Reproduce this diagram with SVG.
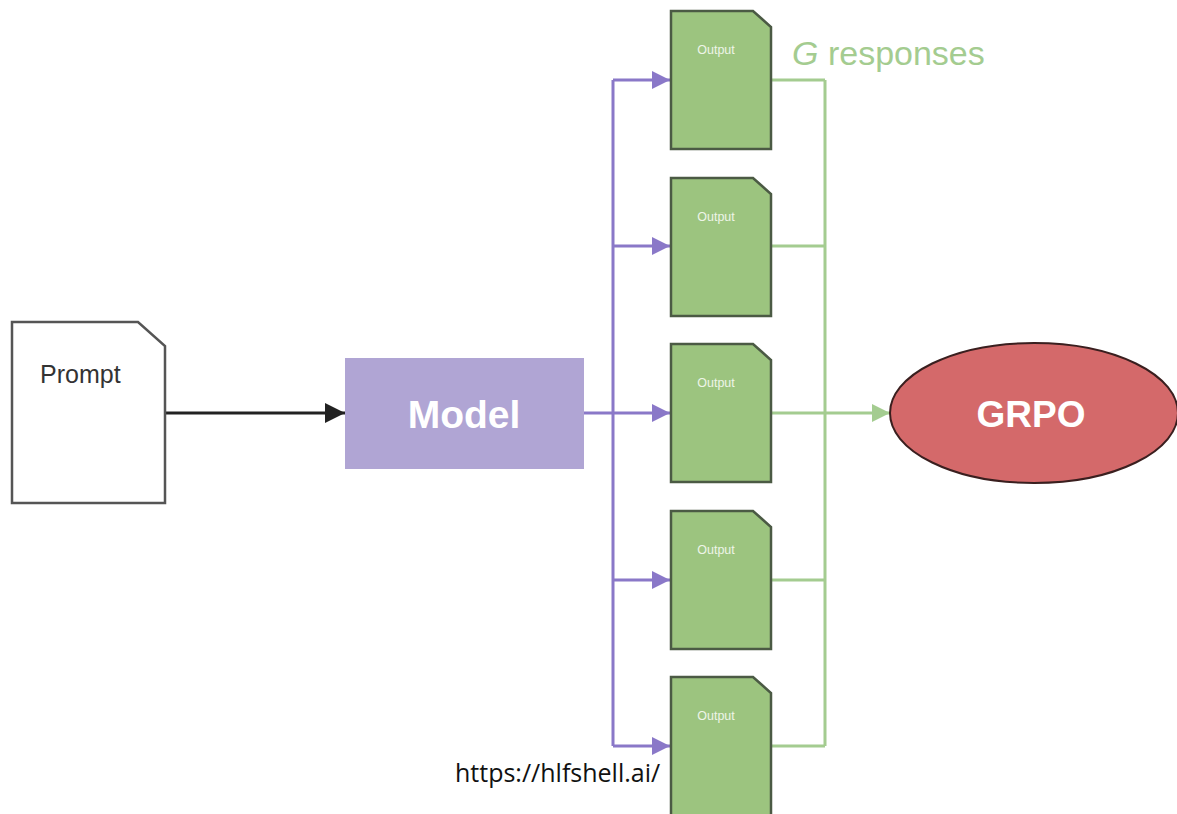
<svg xmlns="http://www.w3.org/2000/svg" width="1177" height="814" viewBox="0 0 1177 814">
<defs>
<style>
.doc{fill:#9cc47f;stroke:#4b5a44;stroke-width:2.5}
.otxt{font-family:"Liberation Sans",Arial,sans-serif;font-size:12.5px;fill:#eef5e8;text-anchor:middle}
.pl{fill:none;stroke:#8a78c8;stroke-width:3}
.gl{fill:none;stroke:#a4cc90;stroke-width:3}
</style>
<marker id="ap" viewBox="0 0 10 10" refX="10" refY="5" markerWidth="24" markerHeight="18" markerUnits="userSpaceOnUse" orient="auto"><path d="M0,0 L10,5 L0,10 Z" fill="#8a78c8"/></marker>
<marker id="ag" viewBox="0 0 10 10" refX="10" refY="5" markerWidth="24" markerHeight="18" markerUnits="userSpaceOnUse" orient="auto"><path d="M0,0 L10,5 L0,10 Z" fill="#a4cc90"/></marker>
<marker id="ab" viewBox="0 0 10 10" refX="10" refY="5" markerWidth="27" markerHeight="20" markerUnits="userSpaceOnUse" orient="auto"><path d="M0,0 L10,5 L0,10 Z" fill="#222"/></marker>
</defs>
<rect width="1177" height="814" fill="#fff"/>
<g id="connectors">
<line x1="165" y1="413" x2="345" y2="413" stroke="#222" stroke-width="3" marker-end="url(#ab)"/>
<path class="pl" d="M584,413 H613 M613,80 V746"/>
<path class="pl" d="M613,80 H670" marker-end="url(#ap)"/>
<path class="pl" d="M613,246 H670" marker-end="url(#ap)"/>
<path class="pl" d="M613,413 H670" marker-end="url(#ap)"/>
<path class="pl" d="M613,580 H670" marker-end="url(#ap)"/>
<path class="pl" d="M613,746 H670" marker-end="url(#ap)"/>
<path class="gl" d="M771,80 H825 M771,246 H825 M771,580 H825 M771,746 H825 M825,80 V746 M771,413 H825"/>
<path class="gl" d="M825,413 H890" marker-end="url(#ag)"/>
</g>
<g id="prompt">
<path d="M12,322 H138 L165,346 V503 H12 Z" fill="#fff" stroke="#555" stroke-width="2.5"/>
<text x="40" y="383" font-family="Liberation Sans,Arial,sans-serif" font-size="25" fill="#333">Prompt</text>
</g>
<g id="model">
<rect x="345" y="358" width="239" height="111" fill="#b0a5d4"/>
<text x="464" y="428" font-family="Liberation Sans,Arial,sans-serif" font-size="39" font-weight="bold" fill="#fff" text-anchor="middle">Model</text>
</g>
<g id="out1"><path class="doc" d="M671,11 H753 L771,27 V149 H671 Z"/><text class="otxt" x="716" y="54">Output</text></g>
<g id="out2"><path class="doc" d="M671,178 H753 L771,194 V316 H671 Z"/><text class="otxt" x="716" y="221">Output</text></g>
<g id="out3"><path class="doc" d="M671,344 H753 L771,360 V482 H671 Z"/><text class="otxt" x="716" y="387">Output</text></g>
<g id="out4"><path class="doc" d="M671,511 H753 L771,527 V649 H671 Z"/><text class="otxt" x="716" y="554">Output</text></g>
<g id="out5"><path class="doc" d="M671,677 H753 L771,693 V830 H671 Z"/><text class="otxt" x="716" y="720">Output</text></g>
<g id="label">
<text x="792" y="65" font-family="Liberation Sans,Arial,sans-serif" font-size="34" fill="#a4cc90"><tspan font-style="italic">G</tspan> responses</text>
</g>
<g id="grpo">
<ellipse cx="1034" cy="413" rx="144" ry="70" fill="#d4696a" stroke="#3a1f1f" stroke-width="2"/>
<text x="1031" y="427" font-family="Liberation Sans,Arial,sans-serif" font-size="37" font-weight="bold" fill="#fff" text-anchor="middle">GRPO</text>
</g>
<text x="455" y="782" font-family="Open Sans,Liberation Sans,sans-serif" font-size="25" fill="#111">https://hlfshell.ai/</text>
</svg>
